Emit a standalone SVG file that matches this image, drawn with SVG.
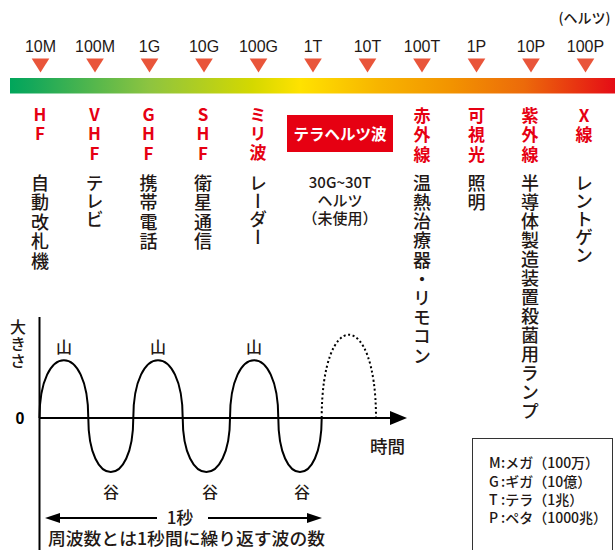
<svg xmlns="http://www.w3.org/2000/svg" width="615" height="550" viewBox="0 0 615 550">
<defs>
<linearGradient id="spec" x1="10" y1="0" x2="615" y2="0" gradientUnits="userSpaceOnUse">
<stop offset="0" stop-color="#00A65B"/>
<stop offset="0.035" stop-color="#14A85A"/>
<stop offset="0.23" stop-color="#8DC440"/>
<stop offset="0.4" stop-color="#D4D800"/>
<stop offset="0.48" stop-color="#FFE200"/>
<stop offset="0.61" stop-color="#F7B400"/>
<stop offset="0.73" stop-color="#F29300"/>
<stop offset="0.85" stop-color="#EC6A0A"/>
<stop offset="1" stop-color="#E50C16"/>
</linearGradient>
<path id="tri" d="M-8.8 58.5 L8.8 58.5 L0 72.5 Z" fill="#E9553A"/>
</defs>
<style>
.fq{font-family:"Liberation Sans",Arial,sans-serif;font-size:16px;fill:#231815;text-anchor:middle}
.jp{font-family:"Noto Sans CJK JP",sans-serif;font-weight:500;fill:#231815}
.rv{font-family:"Noto Sans CJK JP",sans-serif;font-weight:bold;font-size:17px;fill:#E60012;writing-mode:vertical-rl;text-orientation:upright;letter-spacing:2.5px}
.vt{font-family:"Noto Sans CJK JP",sans-serif;font-weight:500;font-size:18px;fill:#231815;writing-mode:vertical-rl;letter-spacing:1.5px}
.vk{font-family:"Noto Sans CJK JP",sans-serif;font-weight:500;font-size:18px;fill:#231815;writing-mode:vertical-rl;letter-spacing:0}
.ax{stroke:#000;stroke-width:2;fill:none}
.lg{font-family:"Noto Sans CJK JP",sans-serif;font-weight:500;font-size:14px;fill:#231815}
</style>
<rect width="615" height="550" fill="#fff"/>

<g id="scale">
<text class="jp" x="584.5" y="23" font-size="14" text-anchor="middle">(ヘルツ)</text>
<rect x="10" y="78" width="605" height="15.5" fill="url(#spec)"/>
<text class="fq" x="40.5" y="52">10M</text>
<text class="fq" x="95" y="52">100M</text>
<text class="fq" x="149.5" y="52">1G</text>
<text class="fq" x="204" y="52">10G</text>
<text class="fq" x="258.5" y="52">100G</text>
<text class="fq" x="313" y="52">1T</text>
<text class="fq" x="367.5" y="52">10T</text>
<text class="fq" x="422" y="52">100T</text>
<text class="fq" x="476.5" y="52">1P</text>
<text class="fq" x="531" y="52">10P</text>
<text class="fq" x="585.5" y="52">100P</text>
<use href="#tri" x="40.5"/>
<use href="#tri" x="95"/>
<use href="#tri" x="149.5"/>
<use href="#tri" x="204"/>
<use href="#tri" x="258.5"/>
<use href="#tri" x="313"/>
<use href="#tri" x="367.5"/>
<use href="#tri" x="422"/>
<use href="#tri" x="476.5"/>
<use href="#tri" x="531"/>
<use href="#tri" x="585.5"/>
</g>

<g id="hf">
<text class="rv" x="40" y="106">HF</text>
<text class="vt" x="40" y="174">自動改札機</text>
</g>
<g id="vhf">
<text class="rv" x="94.5" y="106">VHF</text>
<text class="vk" x="94.5" y="174">テレビ</text>
</g>
<g id="ghf">
<text class="rv" x="148.5" y="106">GHF</text>
<text class="vt" x="148.5" y="174">携帯電話</text>
</g>
<g id="shf">
<text class="rv" x="203" y="106">SHF</text>
<text class="vt" x="203" y="174">衛星通信</text>
</g>
<g id="mm">
<text class="rv" x="258" y="106" style="letter-spacing:2px">ミリ波</text>
<text class="vk" x="258" y="174">レーダー</text>
</g>
<g id="thz">
<rect x="287" y="115" width="106" height="37" fill="#E60012"/>
<text x="340" y="139.5" font-family="Noto Sans CJK JP, sans-serif" font-weight="bold" font-size="15.5" fill="#fff" text-anchor="middle">テラヘルツ波</text>
<text class="jp" font-size="15" text-anchor="middle"><tspan x="340" y="188">30G~30T</tspan><tspan x="340" y="206">ヘルツ</tspan><tspan x="340" y="224">（未使用）</tspan></text>
</g>
<g id="ir">
<text class="rv" x="422" y="107">赤外線</text>
<text class="vt" x="422" y="174" style="letter-spacing:1.2px">温熱治療器・リモコン</text>
</g>
<g id="vis">
<text class="rv" x="476.5" y="107">可視光</text>
<text class="vt" x="476.5" y="174">照明</text>
</g>
<g id="uv">
<text class="rv" x="530" y="107">紫外線</text>
<text class="vt" x="530" y="174" style="letter-spacing:1px">半導体製造装置殺菌用ランプ</text>
</g>
<g id="xray">
<text class="rv" x="584" y="107">X線</text>
<text class="vk" x="584" y="174">レントゲン</text>
</g>

<g id="wave">
<line class="ax" x1="39.5" y1="317" x2="39.5" y2="550"/>
<line class="ax" x1="39.5" y1="418" x2="392" y2="418"/>
<polygon points="390,411 407,418 390,425" fill="#000"/>
<path class="ax" d="M39.5 418 C39.5 341 88.3 341 88.3 418 C88.3 490 133.3 490 133.3 418 C133.3 341 182.7 341 182.7 418 C182.7 490 230 490 230 418 C230 341 278.3 341 278.3 418 C278.3 490 321.7 490 321.7 418"/>
<path d="M321.7 418 C321.7 307 376 307 376 418" fill="none" stroke="#000" stroke-width="2" stroke-dasharray="2 2.6"/>
<text class="jp" x="18" y="319" font-size="16" style="writing-mode:vertical-rl;letter-spacing:1px">大きさ</text>
<text x="20" y="424" font-family="Liberation Sans, Arial, sans-serif" font-weight="bold" font-size="16" fill="#000" text-anchor="middle">0</text>
<text class="jp" x="64" y="353" font-size="16" text-anchor="middle">山</text>
<text class="jp" x="158" y="353" font-size="16" text-anchor="middle">山</text>
<text class="jp" x="254" y="353" font-size="16" text-anchor="middle">山</text>
<text class="jp" x="111" y="498" font-size="16" text-anchor="middle">谷</text>
<text class="jp" x="210" y="498" font-size="16" text-anchor="middle">谷</text>
<text class="jp" x="302" y="498" font-size="16" text-anchor="middle">谷</text>
<text class="jp" x="370" y="453" font-size="17.5">時間</text>
<line class="ax" x1="58" y1="518" x2="157" y2="518"/>
<polygon points="45,518 60,513 60,523" fill="#000"/>
<line class="ax" x1="208" y1="518" x2="309" y2="518"/>
<polygon points="322,518 307,513 307,523" fill="#000"/>
<text class="jp" x="180" y="523.5" font-size="17" text-anchor="middle">1秒</text>
<text class="jp" x="48" y="545" font-size="17.5" textLength="277" lengthAdjust="spacingAndGlyphs">周波数とは1秒間に繰り返す波の数</text>
</g>

<g id="legend">
<rect x="472.5" y="438.5" width="140" height="120" fill="#fff" stroke="#333" stroke-width="1"/>
<text class="lg" x="489" y="468">M</text><text class="lg" x="501" y="468">:メガ（100万）</text>
<text class="lg" x="489" y="486.5">G</text><text class="lg" x="501" y="486.5">:ギガ（10億）</text>
<text class="lg" x="489" y="505">T</text><text class="lg" x="501" y="505">:テラ（1兆）</text>
<text class="lg" x="489" y="523">P</text><text class="lg" x="501" y="523">:ペタ（1000兆）</text>
</g>
</svg>
